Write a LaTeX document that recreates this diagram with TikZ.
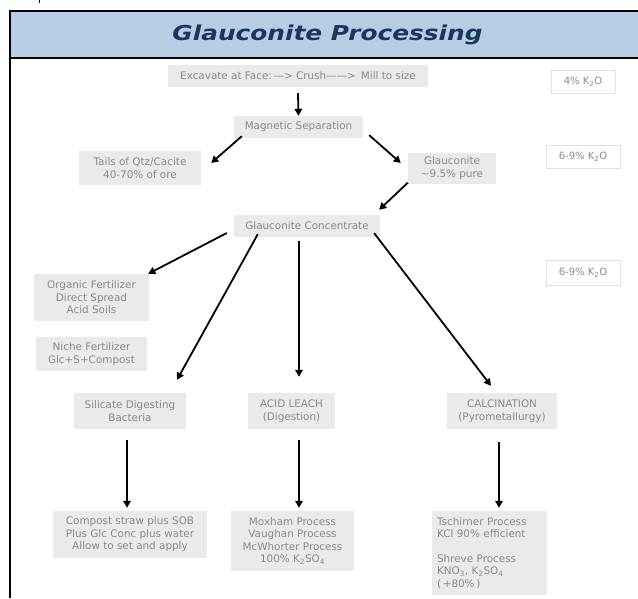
\documentclass[tikz,border=0pt]{standalone}
\usepackage{fontspec}
\usepackage{graphicx}
\setmainfont{DejaVu Sans}
\usetikzlibrary{arrows.meta}
\definecolor{hdrfill}{HTML}{B8CCE4}
\definecolor{hdrtext}{HTML}{17375E}
\definecolor{boxfill}{HTML}{EAEAEA}
\definecolor{boxtext}{HTML}{8A8A8A}
\definecolor{kline}{HTML}{E0E0E0}
\tikzset{
  gbox/.style={fill=boxfill, text=boxtext, font=\fontsize{10.4}{12.5}\selectfont, align=center, inner sep=0pt},
  kbox/.style={fill=white, draw=kline, line width=0.8pt, text=boxtext, font=\fontsize{10}{12}\selectfont, inner sep=0pt, minimum width=74pt, minimum height=24pt},
  arr/.style={-{Triangle[length=7pt,width=7.5pt]}, line width=1.8pt, black},
}
\begin{document}
\begin{tikzpicture}[x=1pt,y=-1pt]
\useasboundingbox (0,0) rectangle (638,598);
% frame and header
\fill[hdrfill] (10,11) rectangle (638,58);
\draw[line width=2pt] (10,598) -- (10,11) -- (638,11);
\draw[line width=1.2pt] (10,58) -- (638,58);
\draw[line width=1pt] (39,0) -- (39,3);
\node[anchor=base, text=hdrtext, font=\fontsize{20.5}{24}\selectfont\bfseries\itshape, inner sep=0pt] (title) at (327.5,40) {\scalebox{1.21}[1]{Glauconite Processing}};
% nodes
\node[gbox, minimum width=260pt, minimum height=22pt] (exc) at (298,76) {Excavate at Face:\,—> Crush——>\enspace Mill to size};
\node[kbox, minimum width=64pt, minimum height=23pt] (k1) at (583,81.5) {4\% K\textsubscript{2}O};
\node[gbox, minimum width=129pt, minimum height=22pt] (mag) at (298.5,127) {Magnetic Separation};
\node[gbox, minimum width=122pt, minimum height=34pt] (tails) at (140,168) {Tails of Qtz/Cacite\\40-70\% of ore};
\node[gbox, minimum width=88pt, minimum height=31pt] (glau) at (452,168) {Glauconite\\\textasciitilde9.5\% pure};
\node[kbox, minimum height=23pt] (k2) at (583,156.5) {6-9\% K\textsubscript{2}O};
\node[gbox, minimum width=146pt, minimum height=22pt] (conc) at (307,226) {Glauconite Concentrate};
\node[kbox, minimum height=25pt] (k3) at (583,272.5) {6-9\% K\textsubscript{2}O};
\node[gbox, minimum width=115pt, minimum height=47pt] (org) at (91.5,297.5) {Organic Fertilizer\\Direct Spread\\Acid Soils};
\node[gbox, minimum width=111pt, minimum height=34pt] (niche) at (91.5,354) {Niche Fertilizer\\Glc+S+Compost};
\node[gbox, minimum width=112pt, minimum height=36pt] (sil) at (130,411) {Silicate Digesting\\Bacteria};
\node[gbox, minimum width=87pt, minimum height=36pt] (acid) at (291.5,411) {ACID LEACH\\(Digestion)};
\node[gbox, minimum width=110pt, minimum height=36pt] (calc) at (502,411) {CALCINATION\\(Pyrometallurgy)};
\node[gbox, minimum width=154pt, minimum height=47pt] (comp) at (130,534.5) {Compost straw plus SOB\\Plus Glc Conc plus water\\Allow to set and apply};
\node[gbox, minimum width=123pt, minimum height=60pt] (mox) at (292.5,541) {Moxham Process\\Vaughan Process\\McWhorter Process\\100\% K\textsubscript{2}SO\textsubscript{4}};
\node[gbox, align=left, text width=105pt, inner xsep=5pt, minimum height=84pt] (tsch) at (489.5,553) {Tschirner Process\\KCl 90\% efficient\\[12pt]Shreve Process\\KNO\textsubscript{3}, K\textsubscript{2}SO\textsubscript{4}\\(\,+80\%\,)};
% connectors
\draw[arr] ([yshift=-6pt]exc.south) -- (mag.north);
\draw[arr] ([shift={(8pt,2pt)}]mag.south west) -- ([shift={(10pt,5pt)}]tails.east);
\draw[arr] ([shift={(6pt,3pt)}]mag.south east) -- ([shift={(-7pt,5pt)}]glau.west);
\draw[arr] ([shift={(0pt,1pt)}]glau.south west) -- ([shift={(-1pt,5pt)}]conc.north east);
\draw[arr] ([shift={(-7pt,-7pt)}]conc.west) -- ([shift={(-1pt,0pt)}]org.north east);
\draw[arr] ([shift={(24pt,3pt)}]conc.south west) -- ([shift={(47pt,13pt)}]sil.north);
\draw[arr] ([shift={(-8pt,-4pt)}]conc.south) -- ([shift={(7.5pt,16pt)}]acid.north);
\draw[arr] ([shift={(-6pt,4pt)}]conc.south east) -- ([shift={(-11pt,7pt)}]calc.north);
\draw[arr] ([shift={(-3pt,-11pt)}]sil.south) -- ([shift={(-3pt,3pt)}]comp.north);
\draw[arr] ([shift={(7.5pt,-11pt)}]acid.south) -- ([shift={(6.5pt,3pt)}]mox.north);
\draw[arr] ([shift={(-3pt,-13pt)}]calc.south) -- ([shift={(9.5pt,3pt)}]tsch.north);
\end{tikzpicture}
\end{document}
